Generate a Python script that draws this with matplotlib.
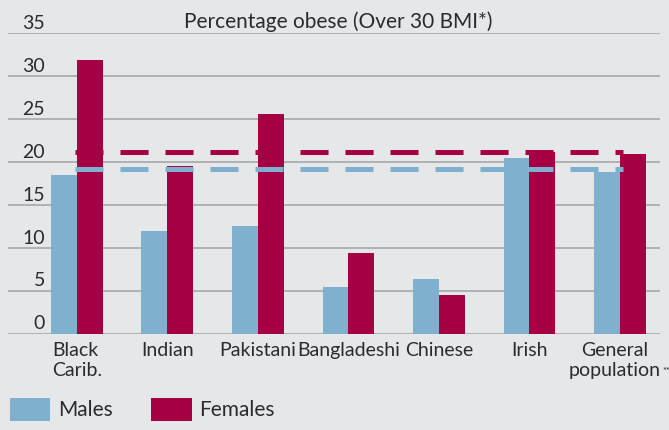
import matplotlib
matplotlib.use("Agg")
import matplotlib.pyplot as plt
import numpy as np
from matplotlib.transforms import blended_transform_factory, ScaledTranslation

categories = ["Black\nCarib.", "Indian", "Pakistani", "Bangladeshi", "Chinese", "Irish", "General\npopulation"]
males = [18.5, 12.0, 12.6, 5.4, 6.4, 20.5, 18.8]
females = [31.9, 19.5, 25.6, 9.4, 4.5, 21.2, 20.9]
male_general = 19.2
female_general = 21.2
yticks = [0, 5, 10, 15, 20, 25, 30, 35]
title = "Percentage obese (Over 30 BMI*)"
footnote_mark = "**"

BG = "#e6e7e9"
BLUE = "#7fb1cf"
RED = "#a50044"
GRID = "#a7a8aa"
TXT = "#2b2b2b"

plt.rcParams["font.family"] = ["Lato", "DejaVu Sans"]
plt.rcParams["lines.scale_dashes"] = False

W, H = 669, 430
fig = plt.figure(figsize=(W / 100, H / 100), dpi=100, facecolor=BG)
ax_left, ax_right, ax_bot, ax_top = 8, 660, 333.7, 33.3
ax = fig.add_axes([ax_left / W, (H - ax_bot) / H, (ax_right - ax_left) / W, (ax_bot - ax_top) / H])
ax.set_facecolor(BG)

x = np.arange(len(categories))
bw = 0.287
b1 = ax.bar(x - bw / 2, males, bw, color=BLUE, label="Males", zorder=2)
b2 = ax.bar(x + bw / 2, females, bw, color=RED, label="Females", zorder=2)

ax.plot([x[0] - 0.02, x[-1] + 0.03], [female_general, female_general], color=RED, lw=3.6,
        linestyle=(0, (20.2, 12.2)), dash_capstyle="butt", zorder=3)
ax.plot([x[0] - 0.02, x[-1] + 0.03], [male_general, male_general], color=BLUE, lw=3.6,
        linestyle=(0, (20.2, 12.2)), dash_capstyle="butt", zorder=3)

ax.set_xlim(-0.762, 6.442)
ax.set_ylim(0, 35)
ax.set_yticks(yticks)
ax.yaxis.grid(True, color=GRID, lw=1.2, zorder=0)
ax.set_axisbelow(True)
ax.tick_params(left=False, bottom=False, labelleft=False, labelbottom=False)
for s in ax.spines.values():
    s.set_visible(False)

tr = blended_transform_factory(fig.transFigure, ax.transData)
for v in yticks:
    ax.text(45 / W, v + 0.5, str(v), transform=tr, ha="right", va="baseline",
            fontsize=14, color=TXT)

trx = blended_transform_factory(ax.transData, fig.transFigure)
labels = []
for i, (xi, c) in enumerate(zip(x, categories)):
    t_tr = trx
    if i == len(categories) - 1:
        t_tr = trx + ScaledTranslation(-5 / 100, 0, fig.dpi_scale_trans)
    t = ax.text(xi, (H - 342) / H, c, transform=t_tr, ha="center", va="top",
                multialignment="left" if "Carib" in c else "center",
                fontsize=14, color=TXT, linespacing=1.22)
    labels.append(t)

fig.text(338.5 / W, (H - 28) / H, title, ha="center", va="baseline", fontsize=15, color=TXT)

leg = fig.legend(handles=[b1, b2], labels=["Males", "Females"], ncol=2,
                 loc="upper left", bbox_to_anchor=(10 / W, (H - 398) / H),
                 frameon=False, fontsize=15, handlelength=1.93, handleheight=1.3,
                 handletextpad=0.38, columnspacing=1.85, borderpad=0, borderaxespad=0,
                 labelcolor=TXT)

fig.canvas.draw()
bb = labels[-1].get_window_extent()
fx = bb.x1 + 1.5
fig.text(fx / W, (H - 374) / H, footnote_mark, ha="left", va="baseline", fontsize=6.5, color=TXT)

fig.savefig("out.png", dpi=100, facecolor=BG)
